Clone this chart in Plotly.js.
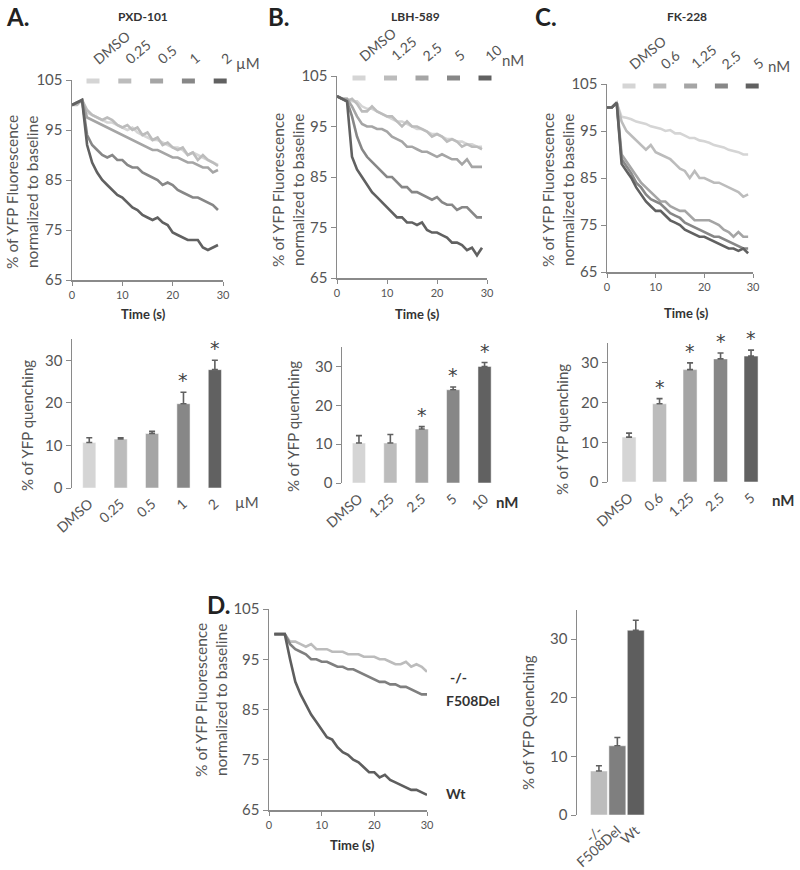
<!DOCTYPE html>
<html>
<head>
<meta charset="utf-8">
<script src="https://cdn.plot.ly/plotly-3.0.1.min.js"></script>
<style>html,body{margin:0;padding:0;background:#fff}#plot{width:800px;height:870px}</style>
</head>
<body>
<div id="plot"></div>
<script>
const W = 800, H = 870;

// Time points (s)
const timeABC = [0,1,2,3,4,5,6,7,8,9,10,11,12,13,14,15,16,17,18,19,20,21,22,23,24,25,26,27,28,29];
const timeD = [1,2,3,4,5,6,7,8,9,10,11,12,13,14,15,16,17,18,19,20,21,22,23,24,25,26,27,28,29,30];

// Panel A: PXD-101 (µM)
const dosesA = ["DMSO", "0.25", "0.5", "1", "2"];
const curvesA = [
  [100,100.5,101,98.5,98,97.5,97,96.5,96.5,96,95.5,95,95.5,94.5,94,93.5,93,93,92.5,92,91.5,91.5,91,90,90.5,90,89.5,89,88.5,88],
  [100,100,101,99,98,97.5,97,97.5,97,96,95.5,96,95,95.5,94,94.5,93,93.5,92,92.5,91.5,91,91.5,90,90.5,89,90,89,88.5,87.8],
  [100,100.5,101,97.5,97,96.5,96,95.5,95,94.5,94,93.5,93,92.5,92,91.5,91,91,90.5,90,89.5,89.5,89,88.5,88.5,88,87.5,87.5,86.5,87],
  [100,100.5,101,94,92,91,90,89.5,90,89,89,88,87.5,87.5,86.5,86,85.5,85,84,84.5,84,83,82.5,82,81.5,81.5,81,80.5,80,79],
  [100,100.5,101,92,88.5,86.5,85,84,83,82,81.5,80.5,79.5,79,78,77.5,77,77.5,76.5,76,74.5,74,73.5,73,73,73,71.5,71,71.5,72]
];
const quenchA = [10.7, 11.5, 12.8, 19.8, 27.8];
const errA = [1.1, 0.3, 0.5, 2.7, 2.2];
const sigA = [false, false, false, true, true];

// Panel B: LBH-589 (nM)
const dosesB = ["DMSO", "1.25", "2.5", "5", "10"];
const curvesB = [
  [101,100.5,100.5,100,100,99,98.5,98.5,98,97.5,97,96.5,96,96,95.5,95,94.5,94.5,94,93.5,93.5,93,92.5,92.5,92,92,91.5,91.5,91,91],
  [101,100.5,100,100.5,99.5,98,98,99,98,97.5,97,97,96,95,96,95,95,94.5,94,93,93.5,93,92,92.5,92,91,91.5,91,91,90.5],
  [101,100.5,100.5,99,97,95.5,95,95,94.5,94.5,94,93,92.5,92,91,91,90.5,90,90,89.5,89,89.5,89,88.5,88.5,87.5,88.5,87,87,87],
  [101,100.5,100,97,93,90.5,89,88,87,86,85,85,84,83,83,82,82,81.5,81,80.5,81,80,79.5,79.5,78.5,79,79,78,77,77],
  [101,100.5,100,89,86.5,85,83.5,82,81,80,79,78,77,77,76,76,75.5,76,74.5,74,74,73.5,73,72,72,71.5,70.5,71,69.5,71]
];
const quenchB = [10.3, 10.3, 13.9, 24.0, 30.0];
const errB = [1.9, 2.2, 0.6, 0.7, 1.0];
const sigB = [false, false, true, true, true];

// Panel C: FK-228 (nM)
const dosesC = ["DMSO", "0.6", "1.25", "2.5", "5"];
const curvesC = [
  [100,100,101,98,97.8,97.5,97,96.8,96.5,96,95.8,95.5,95,95.2,94.5,94.5,94,93.5,93.5,93,92.8,92.5,92,91.8,91.5,91,90.8,90.5,90,90],
  [100,100,101,97,95,94,93,92,91,92,90.5,90,89.5,89,88,87,86.5,85,86.5,85,85,84.5,84,84,83.5,83,82.5,82,81,81.5],
  [100,100,101,90,88.5,87,85.5,84,83,82,81,80,80,79,78.5,78,78,77,76,76,76,76,75.5,75,74,73.5,72.5,73.5,72.5,72.5],
  [100,100,101,89,87.5,86,84,83,81.5,80.5,80,79.5,78.5,77.5,77,76.5,75.5,75,74.5,74,73.5,73,72.5,72.5,72,71.5,71,70.5,70,70],
  [100,100,101,88,86.5,85,83,81.5,80,79,78,78,77,76,75.5,75,74,73.5,73,72.5,72.5,72,71.5,71,70.5,70,70,69.5,70,69]
];
const quenchC = [11.3, 19.7, 28.3, 31.0, 31.7];
const errC = [1.0, 1.3, 1.7, 1.5, 1.5];
const sigC = [false, true, true, true, true];

// Panel D: genotypes
const genotypes = ["-/-", "F508Del", "Wt"];
const curvesD = [
  [100,100,100,98.5,98.5,98,97.5,98,97,97,97,96.5,96.5,96.5,96,96,96,95.5,95.5,95.5,95,95,94.5,94,94,94.5,93.5,94,93.5,92.5],
  [100,100,100,98,97,96.5,96,95,95,94.5,94.5,94,93.5,93.5,93,93,92.5,92,91.5,91,90.5,90.5,90,90,89.5,89.5,89,88.5,88,88],
  [100,100,100,95,90.5,88,86,84,82.5,81,79.5,79,77.5,76.5,76,75,74.5,73.5,72.5,72.5,71.5,72,71,70.5,70,69.5,69,69,68.5,68]
];
const quenchD = [7.5, 11.8, 31.5];
const errD = [0.9, 1.4, 1.7];

// styles
const shades5 = ["#d5d5d5", "#bcbcbc", "#a5a5a5", "#878787", "#616161"];
const shadesD = ["#bcbcbc", "#7f7f7f", "#5e5e5e"];
const axisColor = "#8a8a8a";
const textColor = "#555";
const FONT = "Lato, 'Open Sans', sans-serif";

const px = (x) => x / W;
const py = (y) => 1 - y / H;

const traces = [];
const layout = {
  width: W, height: H,
  margin: { l: 0, r: 0, t: 0, b: 0 },
  showlegend: false,
  paper_bgcolor: "#fff",
  plot_bgcolor: "rgba(0,0,0,0)",
  font: { family: FONT, color: textColor },
  annotations: [],
  shapes: [],
};

function sfx(n) { return n === 1 ? "" : String(n); }

function lineAxes(n, x0, x1, y0, y1) {
  layout["xaxis" + sfx(n)] = {
    domain: [px(x0), px(x1)], anchor: "y" + sfx(n), range: [0, 30],
    tickvals: [0, 10, 20, 30], ticks: "outside", ticklen: 4, tickcolor: axisColor,
    showline: true, linecolor: axisColor, linewidth: 1.5, showgrid: false, zeroline: false,
    tickfont: { size: 11, color: textColor },
  };
  layout["yaxis" + sfx(n)] = {
    domain: [py(y1), py(y0)], anchor: "x" + sfx(n), range: [65, 105],
    tickvals: [65, 75, 85, 95, 105], ticks: "outside", ticklen: 5, tickcolor: axisColor,
    showline: true, linecolor: axisColor, linewidth: 1.5, showgrid: false, zeroline: false,
    tickfont: { size: 15, color: textColor },
  };
}

function barAxes(n, x0, x1, y0, y1, xr) {
  layout["xaxis" + sfx(n)] = {
    domain: [px(x0), px(x1)], anchor: "y" + sfx(n), range: xr, type: "category",
    showline: false, ticks: "", showgrid: false, zeroline: false, tickangle: -42,
    ticklabelstandoff: 4, tickfont: { size: 14, color: textColor },
  };
  layout["yaxis" + sfx(n)] = {
    domain: [py(y1), py(y0)], anchor: "x" + sfx(n), range: [0, 35],
    tickvals: [0, 10, 20, 30], ticks: "outside", ticklen: 5, tickcolor: axisColor,
    showline: true, linecolor: axisColor, linewidth: 1.5, showgrid: false, zeroline: false,
    tickfont: { size: 15, color: textColor },
  };
}

function addLines(n, t, curves, colors) {
  curves.forEach((c, i) => {
    traces.push({
      x: t, y: c, type: "scatter", mode: "lines",
      line: { color: colors[i], width: 2.6 },
      xaxis: "x" + sfx(n), yaxis: "y" + sfx(n), hoverinfo: "skip",
    });
  });
}

function addBars(n, cats, vals, errs, colors, width, sig) {
  traces.push({
    x: cats, y: vals, type: "bar", width: width,
    marker: { color: colors, line: { color: "#fff", width: 0.5 } },
    error_y: { type: "data", symmetric: false, array: errs, arrayminus: errs.map(() => 0),
      color: "#606060", thickness: 1.6, width: 3 },
    xaxis: "x" + sfx(n), yaxis: "y" + sfx(n), hoverinfo: "skip",
  });
  // significance stars sit on top of the error bar (anchored at its tip, which is in range)
  if (sig) {
    cats.forEach((c, i) => {
      if (!sig[i]) return;
      layout.annotations.push({
        text: "*", x: i, y: vals[i] + errs[i],
        xref: "x" + sfx(n), yref: "y" + sfx(n), showarrow: false,
        xanchor: "center", yanchor: "bottom", yshift: -1,
        font: { size: 19, color: "#444", family: "DejaVu Sans" },
      });
    });
  }
}

function ann(text, x, y, o) {
  layout.annotations.push(Object.assign({
    text: text, x: px(x), y: py(y), xref: "paper", yref: "paper",
    showarrow: false, xanchor: "center", yanchor: "middle",
    font: { size: 13, color: textColor, family: FONT },
  }, o || {}));
}

// legend keys above a line panel
function legendKeys(doses, x0, step, ySq, unit, unitX, unitY) {
  doses.forEach((d, i) => {
    const cx = x0 + i * step;
    layout.shapes.push({
      type: "rect", xref: "paper", yref: "paper",
      x0: px(cx - 6.5), x1: px(cx + 6.5), y0: py(ySq + 2.5), y1: py(ySq - 2.5),
      fillcolor: shades5[i], line: { width: 0 },
    });
    ann(d, cx - 6, ySq - 11, { textangle: -40, xanchor: "left", yanchor: "bottom",
      font: { size: 14, color: textColor, family: FONT } });
  });
  ann(unit, unitX, unitY, { font: { size: 15, color: textColor, family: FONT } });
}

// ---- top line panels ----
lineAxes(1, 72, 223, 80, 280);
lineAxes(2, 337, 487, 76, 278);
lineAxes(3, 607, 753, 84, 272);
addLines(1, timeABC, curvesA, shades5);
addLines(2, timeABC, curvesB, shades5);
addLines(3, timeABC, curvesC, shades5);

// ---- bar panels ----
barAxes(4, 72, 229, 339, 488, [-0.55, 4.45]);
barAxes(5, 342, 499, 347, 483, [-0.54, 4.46]);
barAxes(6, 608, 760.5, 343, 482, [-0.69, 4.31]);
addBars(4, dosesA, quenchA, errA, shades5, 0.42, sigA);
addBars(5, dosesB, quenchB, errB, shades5, 0.42, sigB);
addBars(6, dosesC, quenchC, errC, shades5, 0.46, sigC);

// ---- panel D ----
lineAxes(7, 269, 427, 609, 810);
addLines(7, timeD, curvesD, shadesD);
barAxes(8, 577, 645, 609.7, 815, [-1.19, 2.5]);
addBars(8, genotypes, quenchD, errD, shadesD, 0.92, null);

// ---- text ----
const letterFont = { size: 24, color: "#222", family: FONT, weight: "bold" };
const titleFont = { size: 12, color: "#333", family: FONT, weight: "bold" };
const timeFont = { size: 13, color: "#333", family: FONT, weight: "bold" };
const yTitleFont = { size: 15.5, color: textColor, family: FONT };

ann("A.", 4, 16, { xanchor: "left", font: letterFont });
ann("B.", 266, 16, { xanchor: "left", font: letterFont });
ann("C.", 533, 16, { xanchor: "left", font: letterFont });
ann("D.", 205, 604, { xanchor: "left", font: letterFont });

ann("PXD-101", 143, 16, { font: titleFont });
ann("LBH-589", 415, 16, { font: titleFont });
ann("FK-228", 687, 16, { font: titleFont });

legendKeys(dosesA, 93, 31.8, 81, "µM", 248, 63);
legendKeys(dosesB, 359, 31.5, 78, "nM", 513, 60);
legendKeys(dosesC, 629, 30.8, 86, "nM", 779, 66);

const fluoTitle = "% of YFP Fluorescence<br>normalized to baseline";
ann(fluoTitle, 22, 192, { textangle: -90, font: yTitleFont });
ann(fluoTitle, 288, 190, { textangle: -90, font: yTitleFont });
ann(fluoTitle, 558, 190, { textangle: -90, font: yTitleFont });
ann(fluoTitle, 211, 700, { textangle: -90, font: yTitleFont });

ann("Time (s)", 143, 314, { font: timeFont });
ann("Time (s)", 417, 314, { font: timeFont });
ann("Time (s)", 686, 313, { font: timeFont });
ann("Time (s)", 352, 845, { font: timeFont });

const qFont = { size: 15, color: textColor, family: FONT };
ann("% of YFP quenching", 27, 426, { textangle: -90, font: qFont });
ann("% of YFP quenching", 293, 427, { textangle: -90, font: qFont });
ann("% of YFP quenching", 562, 430, { textangle: -90, font: qFont });
ann("% of YFP Quenching", 528, 723, { textangle: -90, font: qFont });

ann("µM", 247, 502, { font: { size: 15, color: textColor, family: FONT } });
ann("nM", 507, 502, { font: { size: 15, color: "#333", family: FONT, weight: "bold" } });
ann("nM", 783, 500, { font: { size: 15, color: "#333", family: FONT, weight: "bold" } });

const dLabFont = { size: 14, color: "#333", family: FONT, weight: "bold" };
ann("-/-", 448, 677, { xanchor: "left", font: dLabFont });
ann("F508Del", 444, 700, { xanchor: "left", font: dLabFont });
ann("Wt", 444, 793, { xanchor: "left", font: dLabFont });

Plotly.newPlot("plot", traces, layout, { displayModeBar: false, staticPlot: true });
</script>
</body>
</html>
